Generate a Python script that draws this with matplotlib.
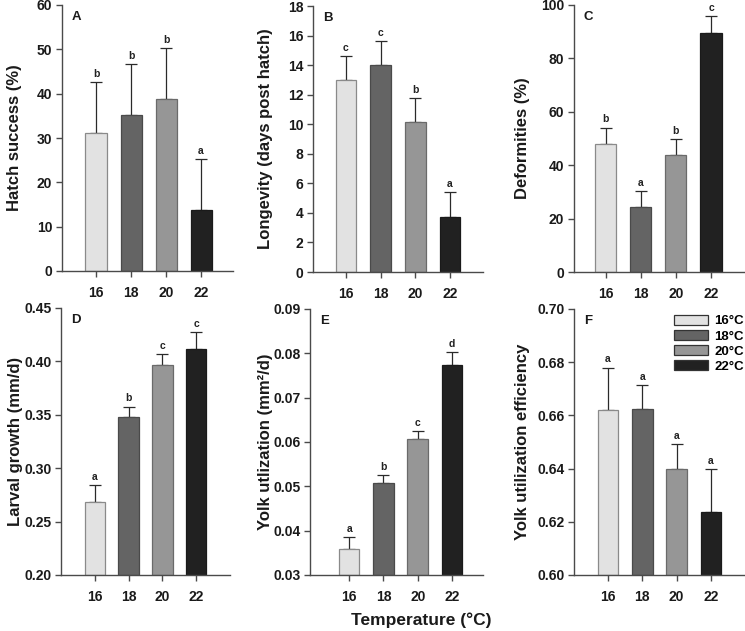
import matplotlib
matplotlib.use("Agg")
import matplotlib.pyplot as plt
from matplotlib.patches import Patch
import numpy as np

plt.rcParams['font.family'] = ['Liberation Sans', 'DejaVu Sans']
plt.rcParams['font.weight'] = 'bold'

temps = ['16', '18', '20', '22']
legend_labels = ['16°C', '18°C', '20°C', '22°C']
colors = ['#e2e2e2', '#646464', '#969696', '#212121']
edges = ['#8a8a8a', '#4a4a4a', '#6a6a6a', '#1a1a1a']

hatch_mean = [31.1, 35.2, 38.8, 13.7]
hatch_err = [11.5, 11.5, 11.4, 11.5]
hatch_sig = ['b', 'b', 'b', 'a']

long_mean = [13.0, 14.0, 10.17, 3.75]
long_err = [1.6, 1.65, 1.6, 1.65]
long_sig = ['c', 'c', 'b', 'a']

deform_mean = [48.1, 24.3, 43.9, 89.7]
deform_err = [6.0, 6.0, 6.0, 6.2]
deform_sig = ['b', 'a', 'b', 'c']

growth_mean = [0.2684, 0.3476, 0.3969, 0.4113]
growth_err = [0.0159, 0.0100, 0.0103, 0.0159]
growth_sig = ['a', 'b', 'c', 'c']

yolk_mean = [0.0358, 0.0507, 0.0606, 0.0774]
yolk_err = [0.0028, 0.0018, 0.0019, 0.0028]
yolk_sig = ['a', 'b', 'c', 'd']

eff_mean = [0.6621, 0.6625, 0.6400, 0.6237]
eff_err = [0.0159, 0.0090, 0.0093, 0.0160]
eff_sig = ['a', 'a', 'a', 'a']

panels = [
    dict(letter='A', mean=hatch_mean, err=hatch_err, sig=hatch_sig, ylabel='Hatch success (%)',
         ylim=(0, 60), ticks=np.arange(0, 61, 10), fmt='{:.0f}', px=(62, 233, 5, 271), xlim=(-0.97, 3.91), lab=22),
    dict(letter='B', mean=long_mean, err=long_err, sig=long_sig, ylabel='Longevity (days post hatch)',
         ylim=(0, 18), ticks=np.arange(0, 19, 2), fmt='{:.0f}', px=(313, 483, 6, 272), xlim=(-0.95, 3.95), lab=273),
    dict(letter='C', mean=deform_mean, err=deform_err, sig=deform_sig, ylabel='Deformities (%)',
         ylim=(0, 100), ticks=np.arange(0, 101, 20), fmt='{:.0f}', px=(574, 745, 5, 272), xlim=(-0.91, 3.97), lab=530),
    dict(letter='D', mean=growth_mean, err=growth_err, sig=growth_sig, ylabel='Larval growth (mm/d)',
         ylim=(0.20, 0.45), ticks=np.arange(0.20, 0.451, 0.05), fmt='{:.2f}', px=(61, 230, 308, 575), xlim=(-1.0, 4.0), lab=23),
    dict(letter='E', mean=yolk_mean, err=yolk_err, sig=yolk_sig, ylabel='Yolk utlization (mm²/d)',
         ylim=(0.03, 0.09), ticks=np.arange(0.03, 0.0901, 0.01), fmt='{:.2f}', px=(310, 483, 309, 575), xlim=(-1.14, 3.9), lab=273),
    dict(letter='F', mean=eff_mean, err=eff_err, sig=eff_sig, ylabel='Yolk utilization efficiency',
         ylim=(0.60, 0.70), ticks=np.arange(0.60, 0.7001, 0.02), fmt='{:.2f}', px=(574, 745, 309, 575), xlim=(-0.99, 3.99), lab=530),
]

W, H = 745, 631
fig = plt.figure(figsize=(W / 100, H / 100), dpi=100)

x = np.arange(len(temps))
for p in panels:
    l, r, t, b = p['px']
    ax = fig.add_axes([l / W, 1 - b / H, (r - l) / W, (b - t) / H])
    ax.bar(x, np.array(p['mean']) - p['ylim'][0], bottom=p['ylim'][0], width=0.6,
           color=colors, edgecolor=edges, linewidth=0.9, zorder=2)
    ax.errorbar(x, p['mean'], yerr=[np.zeros(4), p['err']], fmt='none', ecolor='#2a2a2a',
                elinewidth=0.9, capsize=4, capthick=0.9, zorder=1)
    span = p['ylim'][1] - p['ylim'][0]
    for xi, m, e, s in zip(x, p['mean'], p['err'], p['sig']):
        ax.text(xi, m + e + span * 0.012, s, ha='center', va='bottom', fontsize=7.5, fontweight='bold', color='#222222')
    ax.set_xlim(*p['xlim'])
    ax.set_ylim(*p['ylim'])
    ax.set_xticks(x)
    ax.set_xticklabels(temps)
    ax.set_yticks(p['ticks'])
    ax.set_yticklabels([p['fmt'].format(v) for v in p['ticks']])
    for side in ['top', 'right']:
        ax.spines[side].set_visible(False)
    for side in ['left', 'bottom']:
        ax.spines[side].set_color('#4a4a4a')
        ax.spines[side].set_linewidth(1.0)
    ax.tick_params(axis='both', direction='out', length=4, width=1.0, color='#4a4a4a', labelsize=10)
    ax.tick_params(axis='x', pad=6.5)
    ax.tick_params(axis='y', pad=3)
    for lab in ax.get_xticklabels() + ax.get_yticklabels():
        lab.set_fontweight('bold')
        lab.set_color('#1a1a1a')
    ax.set_ylabel(p['ylabel'], fontsize=12, fontweight='bold', color='#1a1a1a')
    ax.yaxis.set_label_coords((p['lab'] - l) / (r - l), 0.5)
    ax.text(10 / (r - l), 1 - 12 / (b - t), p['letter'], transform=ax.transAxes, ha='left', va='center',
            fontsize=9.5, fontweight='bold', color='#1a1a1a')
    if p['letter'] == 'F':
        handles = [Patch(facecolor=c, edgecolor='#333333', linewidth=0.9) for c in colors]
        ax.legend(handles, legend_labels, loc='upper left',
                  bbox_to_anchor=((674 - l) / (r - l), 1 - 6 / (b - t)),
                  frameon=False, handlelength=2.6, handleheight=0.75,
                  handletextpad=0.45, labelspacing=0.2, borderpad=0, borderaxespad=0,
                  prop={'weight': 'bold', 'size': 9.5})

fig.text(421 / W, 1 - 620 / H, 'Temperature (°C)', ha='center', va='center', fontsize=12.5,
         fontweight='bold', color='#1a1a1a')

fig.savefig('out.png', dpi=100)
